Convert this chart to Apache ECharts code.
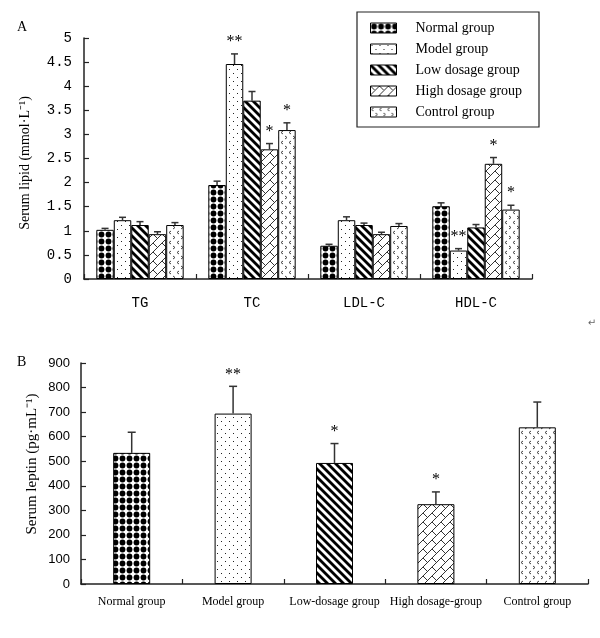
<!DOCTYPE html>
<html>
<head>
<meta charset="utf-8">
<script src="https://cdn.jsdelivr.net/npm/echarts@6/dist/echarts.min.js"></script>
<style>
  html, body { margin: 0; padding: 0; background: #fff; }
  #main { width: 600px; height: 638px; }
</style>
</head>
<body>
<div id="main"></div>
<script>
'use strict';

// panel A: serum lipid
const lipidCats = ['TG', 'TC', 'LDL-C', 'HDL-C'];
const groupNames = ['Normal group', 'Model group', 'Low dosage group', 'High dosage group', 'Control group'];
const normalLipid = [1.02, 1.95, 0.69, 1.51];
const modelLipid = [1.22, 4.46, 1.22, 0.59];
const lowLipid = [1.12, 3.70, 1.12, 1.07];
const highLipid = [0.93, 2.69, 0.93, 2.39];
const controlLipid = [1.12, 3.09, 1.10, 1.44];
const normalLipidErr = [0.03, 0.08, 0.03, 0.07];
const modelLipidErr = [0.06, 0.21, 0.07, 0.04];
const lowLipidErr = [0.07, 0.19, 0.04, 0.06];
const highLipidErr = [0.05, 0.12, 0.04, 0.13];
const controlLipidErr = [0.05, 0.15, 0.05, 0.09];
const normalLipidStar = ['', '', '', ''];
const modelLipidStar = ['', '**', '', '**'];
const lowLipidStar = ['', '', '', ''];
const highLipidStar = ['', '*', '', '*'];
const controlLipidStar = ['', '*', '', '*'];
const lipidTicks = [0, 0.5, 1, 1.5, 2, 2.5, 3, 3.5, 4, 4.5, 5];

// panel B: serum leptin
const leptinCats = ['Normal group', 'Model group', 'Low-dosage group', 'High dosage-group', 'Control group'];
const leptin = [534, 694, 493, 325, 638];
const leptinErr = [84, 111, 79, 50, 103];
const leptinStar = ['', '**', '*', '*', ''];

const lipidVals = [normalLipid, modelLipid, lowLipid, highLipid, controlLipid];
const lipidErrs = [normalLipidErr, modelLipidErr, lowLipidErr, highLipidErr, controlLipidErr];
const lipidStars = [normalLipidStar, modelLipidStar, lowLipidStar, highLipidStar, controlLipidStar];

const SERIF = 'Liberation Serif';
const MONO = 'Liberation Mono';
const CAT_GAP = 0.22;

function tile(w, h, draw) {
    const c = document.createElement('canvas');
    c.width = w;
    c.height = h;
    const ctx = c.getContext('2d');
    ctx.fillStyle = '#fff';
    ctx.fillRect(0, 0, w, h);
    draw(ctx);
    return { image: c, repeat: 'repeat' };
}

const patterns = [
    // black dots
    tile(7, 7, ctx => {
        ctx.fillStyle = '#000';
        ctx.beginPath();
        ctx.arc(3.5, 3.5, 2.9, 0, Math.PI * 2);
        ctx.fill();
    }),
    // sparse tiny dots
    tile(8, 8, ctx => {
        ctx.fillStyle = '#222';
        ctx.fillRect(1, 1, 1, 1);
        ctx.fillRect(5, 5, 1, 1);
    }),
    // thick back-slash stripes
    tile(8, 8, ctx => {
        ctx.strokeStyle = '#000';
        ctx.lineWidth = 2.8;
        [-8, 0, 8].forEach(k => {
            ctx.beginPath();
            ctx.moveTo(k - 2, -2);
            ctx.lineTo(k + 10, 10);
            ctx.stroke();
        });
    }),
    // herringbone
    tile(9, 9, ctx => {
        ctx.strokeStyle = '#333';
        ctx.lineWidth = 1;
        ctx.beginPath();
        ctx.moveTo(-1, 10);
        ctx.lineTo(10, -1);
        ctx.moveTo(0, 0);
        ctx.lineTo(4.5, 4.5);
        ctx.stroke();
    }),
    // small chevrons
    tile(8, 10, ctx => {
        ctx.strokeStyle = '#444';
        ctx.lineWidth = 1;
        ctx.beginPath();
        ctx.moveTo(3, 1);
        ctx.lineTo(1, 2.5);
        ctx.lineTo(3, 4);
        ctx.moveTo(5, 6);
        ctx.lineTo(7, 7.5);
        ctx.lineTo(5, 9);
        ctx.stroke();
    })
];

const chart = echarts.init(document.getElementById('main'), null, { renderer: 'canvas' });

const axisLine = { show: true, lineStyle: { color: '#222', width: 1.5 } };
const axisTick = { show: true, inside: true, length: 5, lineStyle: { color: '#222', width: 1.2 } };

const lipidBars = groupNames.map((name, g) => ({
    name: name,
    type: 'bar',
    xAxisIndex: 0,
    yAxisIndex: 0,
    barGap: '0%',
    barCategoryGap: (CAT_GAP * 100) + '%',
    data: lipidVals[g],
    itemStyle: { color: patterns[g], borderColor: '#000', borderWidth: 1 },
    z: 2
}));

const lipidErrData = [];
lipidVals.forEach((vals, g) => vals.forEach((v, c) => lipidErrData.push([c, g, v, lipidErrs[g][c]])));

function errGroup(x, yTop, yCap, half, star) {
    const children = [
        { type: 'line', shape: { x1: x, y1: yTop, x2: x, y2: yCap }, style: { stroke: '#333', lineWidth: 1.5 } },
        { type: 'line', shape: { x1: x - half, y1: yCap, x2: x + half, y2: yCap }, style: { stroke: '#333', lineWidth: 1.5 } }
    ];
    if (star) {
        children.push({
            type: 'text', x: x, y: yCap - 12,
            style: { text: star, fill: '#000', font: '16px "' + SERIF + '"', align: 'center', verticalAlign: 'middle' }
        });
    }
    return { type: 'group', children: children };
}

const option = {
    animation: false,
    backgroundColor: '#fff',
    grid: [
        { left: 84, right: 68, top: 38, height: 241 },
        { left: 81, right: 12, top: 363, height: 221 }
    ],
    legend: {
        data: groupNames,
        orient: 'vertical',
        left: 370,
        top: 21,
        padding: 0,
        itemWidth: 26,
        itemHeight: 10,
        itemGap: 7,
        icon: 'rect',
        selectedMode: false,
        itemStyle: { borderColor: '#000', borderWidth: 1 },
        textStyle: { fontFamily: SERIF, fontSize: 14, color: '#000', padding: [0, 0, 0, 14] }
    },
    xAxis: [
        {
            type: 'category', gridIndex: 0, data: lipidCats,
            axisLine: axisLine, axisTick: axisTick,
            axisLabel: { fontFamily: MONO, fontSize: 14, color: '#000', margin: 17 }
        },
        {
            type: 'category', gridIndex: 1, data: leptinCats,
            axisLine: axisLine, axisTick: axisTick,
            axisLabel: { fontFamily: SERIF, fontSize: 12, color: '#000', margin: 12, interval: 0 }
        }
    ],
    yAxis: [
        {
            type: 'value', gridIndex: 0, min: 0, max: 5, interval: 0.5,
            axisLine: axisLine, axisTick: axisTick, splitLine: { show: false },
            axisLabel: { fontFamily: MONO, fontSize: 14, color: '#000', margin: 12,
                formatter: v => lipidTicks.indexOf(v) >= 0 ? String(v) : '' }
        },
        {
            type: 'value', gridIndex: 1, min: 0, max: 900, interval: 100,
            axisLine: axisLine, axisTick: axisTick, splitLine: { show: false },
            axisLabel: { fontFamily: 'Liberation Sans', fontSize: 13, color: '#000', margin: 11 }
        }
    ],
    series: lipidBars.concat([
        {
            type: 'custom',
            xAxisIndex: 0,
            yAxisIndex: 0,
            z: 5,
            data: lipidErrData,
            encode: { x: 0, y: 2 },
            renderItem: (params, api) => {
                const c = api.value(0), g = api.value(1), v = api.value(2), e = api.value(3);
                const catW = api.size([1, 0])[0];
                const bw = catW * (1 - CAT_GAP) / groupNames.length;
                const base = api.coord([c, v]);
                const cap = api.coord([c, v + e]);
                const x = base[0] + (g - 2) * bw;
                return errGroup(x, base[1], cap[1], 3.5, lipidStars[g][c]);
            }
        },
        {
            name: 'Serum leptin',
            type: 'bar',
            xAxisIndex: 1,
            yAxisIndex: 1,
            barWidth: 37,
            data: leptin.map((v, i) => ({ value: v, itemStyle: { color: patterns[i] } })),
            itemStyle: { borderColor: '#000', borderWidth: 1 },
            z: 2
        },
        {
            type: 'custom',
            xAxisIndex: 1,
            yAxisIndex: 1,
            z: 5,
            data: leptin.map((v, i) => [i, v, leptinErr[i]]),
            encode: { x: 0, y: 1 },
            renderItem: (params, api) => {
                const i = api.value(0), v = api.value(1), e = api.value(2);
                const base = api.coord([i, v]);
                const cap = api.coord([i, v + e]);
                return errGroup(base[0], base[1], cap[1], 4, leptinStar[i]);
            }
        }
    ]),
    graphic: [
        { type: 'rect', shape: { x: 357, y: 12, width: 182, height: 115 },
          style: { fill: 'none', stroke: '#222', lineWidth: 1.2 }, z: 10 },
        { type: 'text', x: 17, y: 27,
          style: { text: 'A', font: '14px "' + SERIF + '"', fill: '#000', verticalAlign: 'middle' } },
        { type: 'text', x: 17, y: 362,
          style: { text: 'B', font: '14px "' + SERIF + '"', fill: '#000', verticalAlign: 'middle' } },
        { type: 'text', x: 25, y: 163, rotation: Math.PI / 2,
          style: { text: 'Serum lipid (mmol·L⁻¹)', font: '14px "' + SERIF + '"', fill: '#000',
                   align: 'center', verticalAlign: 'middle' } },
        { type: 'text', x: 32, y: 464, rotation: Math.PI / 2,
          style: { text: 'Serum leptin (pg·mL⁻¹)', font: '15px "' + SERIF + '"', fill: '#000',
                   align: 'center', verticalAlign: 'middle' } },
        { type: 'text', x: 592, y: 323,
          style: { text: '↵', font: '10px "DejaVu Sans"', fill: '#666', align: 'center', verticalAlign: 'middle' } }
    ]
};

chart.setOption(option);
</script>
</body>
</html>
